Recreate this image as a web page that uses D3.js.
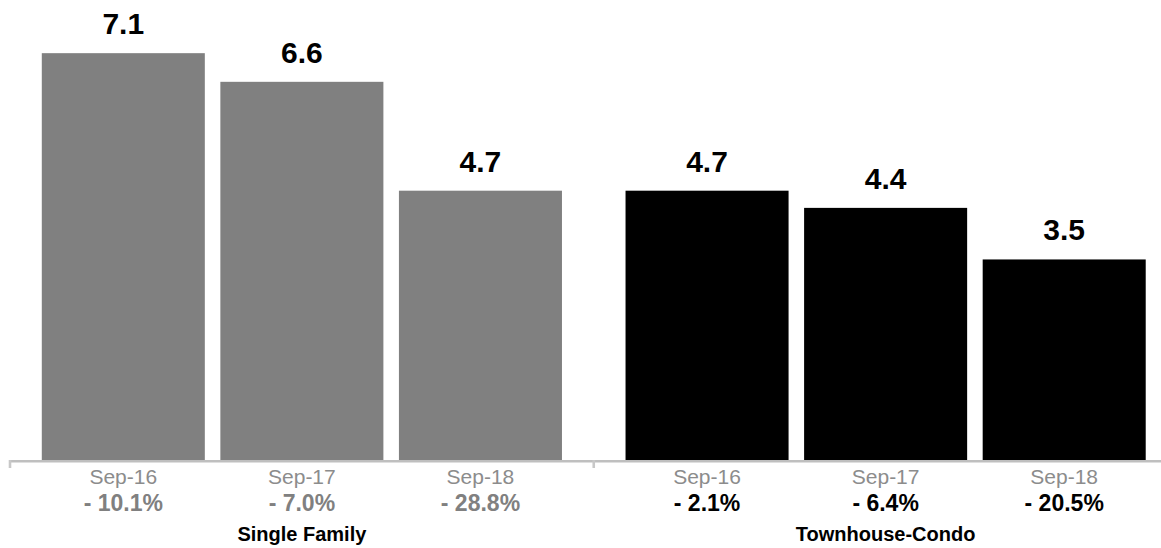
<!DOCTYPE html>
<html>
<head>
<meta charset="utf-8">
<script src="https://cdn.jsdelivr.net/npm/d3@7"></script>
<style>
  html, body { margin: 0; padding: 0; background: #ffffff; }
  svg { display: block; font-family: "Liberation Sans", Arial, Helvetica, sans-serif; }
</style>
</head>
<body>
<svg id="chart" width="1161" height="548"></svg>
<script>
// Months of inventory by property type
const groups = ["Single Family", "Townhouse-Condo"];
const periods = ["Sep-16", "Sep-17", "Sep-18"];
const singleFamily = [7.1, 6.6, 4.7];
const townhouseCondo = [4.7, 4.4, 3.5];
const singleFamilyChange = ["- 10.1%", "- 7.0%", "- 28.8%"];
const townhouseCondoChange = ["- 2.1%", "- 6.4%", "- 20.5%"];

const seriesValues = [singleFamily, townhouseCondo];
const seriesChange = [singleFamilyChange, townhouseCondoChange];
const barColor = ["#808080", "#000000"];
const changeColor = ["#808080", "#000000"];

const svg = d3.select("#chart");
const baseY = 460;

const x0 = d3.scaleBand().domain(groups).range([10, 1177.5]).padding(0);
const x1 = d3.scaleBand().domain(periods).range([0, x0.bandwidth()])
  .paddingInner(0.087).paddingOuter(0.178);
const y = d3.scaleLinear().domain([0, 8]).range([baseY, baseY - 8 * 57.3]);

const rows = [];
groups.forEach((g, gi) => {
  periods.forEach((p, pi) => {
    rows.push({ group: g, gi, period: p, value: seriesValues[gi][pi], change: seriesChange[gi][pi] });
  });
});

const cx = d => x0(d.group) + x1(d.period) + x1.bandwidth() / 2;

// bars
svg.append("g").selectAll("rect").data(rows).join("rect")
  .attr("x", d => x0(d.group) + x1(d.period))
  .attr("y", d => y(d.value))
  .attr("width", x1.bandwidth())
  .attr("height", d => y(0) - y(d.value))
  .attr("fill", d => barColor[d.gi]);

// value labels
svg.append("g").selectAll("text").data(rows).join("text")
  .attr("x", cx)
  .attr("y", d => y(d.value) - 19)
  .attr("text-anchor", "middle")
  .attr("font-size", 30)
  .attr("font-weight", "bold")
  .attr("fill", "#000")
  .text(d => d.value.toFixed(1));

// category axis line and group separators
const axis = svg.append("g");
axis.append("line")
  .attr("x1", x0.range()[0]).attr("x2", x0.range()[1])
  .attr("y1", baseY + 1.3).attr("y2", baseY + 1.3)
  .attr("stroke", "#bfbfbf").attr("stroke-width", 2.6);
const bounds = [x0(groups[0])].concat(groups.map(g => x0(g) + x0.bandwidth()));
axis.selectAll("line.tick").data(bounds).join("line")
  .attr("class", "tick")
  .attr("x1", d => d).attr("x2", d => d)
  .attr("y1", baseY).attr("y2", baseY + 8)
  .attr("stroke", "#c8c8c8").attr("stroke-width", 2.6);

// period labels
svg.append("g").selectAll("text").data(rows).join("text")
  .attr("x", cx)
  .attr("y", 484)
  .attr("text-anchor", "middle")
  .attr("font-size", 21)
  .attr("fill", "#8c8c8c")
  .text(d => d.period);

// year-over-year change
svg.append("g").selectAll("text").data(rows).join("text")
  .attr("x", cx)
  .attr("y", 511)
  .attr("text-anchor", "middle")
  .attr("font-size", 23)
  .attr("font-weight", "bold")
  .attr("fill", d => changeColor[d.gi])
  .text(d => d.change);

// group labels
svg.append("g").selectAll("text").data(groups).join("text")
  .attr("x", g => x0(g) + x0.bandwidth() / 2)
  .attr("y", 541)
  .attr("text-anchor", "middle")
  .attr("font-size", 20)
  .attr("font-weight", "bold")
  .attr("fill", "#000")
  .text(g => g);
</script>
</body>
</html>
